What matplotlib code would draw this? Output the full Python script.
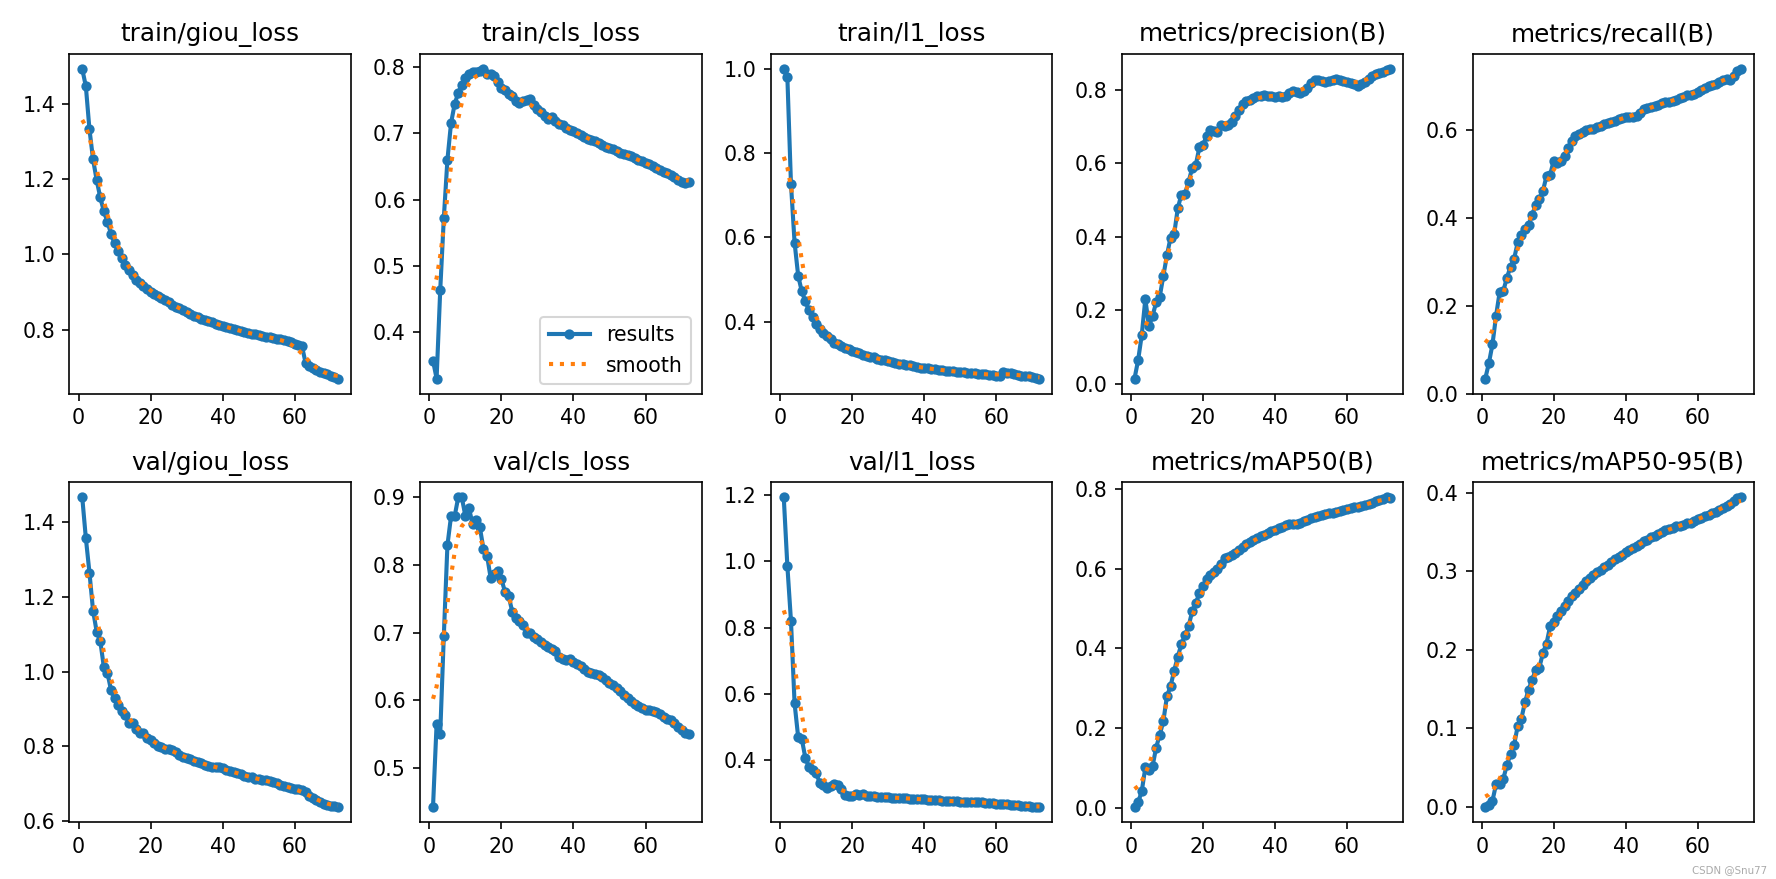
import numpy as np
import matplotlib
matplotlib.use("Agg")
import matplotlib.pyplot as plt
from matplotlib.ticker import MultipleLocator

# epochs 1..72
epochs = list(range(1, 73))

titles = ["train/giou_loss", "train/cls_loss", "train/l1_loss", "metrics/precision(B)", "metrics/recall(B)",
          "val/giou_loss", "val/cls_loss", "val/l1_loss", "metrics/mAP50(B)", "metrics/mAP50-95(B)"]

train_giou = [1.492, 1.446, 1.332, 1.252, 1.197, 1.151, 1.114, 1.086, 1.054, 1.029,
              1.008, 0.990, 0.972, 0.958, 0.944, 0.932, 0.925, 0.916, 0.908, 0.901,
              0.895, 0.889, 0.883, 0.878, 0.872, 0.866, 0.861, 0.856, 0.851, 0.846,
              0.841, 0.837, 0.833, 0.829, 0.826, 0.822, 0.819, 0.816, 0.813, 0.810,
              0.807, 0.804, 0.801, 0.798, 0.796, 0.793, 0.791, 0.789, 0.787, 0.785,
              0.783, 0.781, 0.779, 0.777, 0.775, 0.774, 0.772, 0.770, 0.768, 0.762,
              0.760, 0.756, 0.712, 0.702, 0.697, 0.693, 0.688, 0.684, 0.681, 0.677,
              0.674, 0.670]

train_cls = [0.357, 0.330, 0.463, 0.572, 0.660, 0.715, 0.744, 0.761, 0.773, 0.784,
             0.789, 0.792, 0.793, 0.794, 0.797, 0.790, 0.789, 0.786, 0.777, 0.768,
             0.765, 0.760, 0.757, 0.748, 0.745, 0.748, 0.750, 0.752, 0.742, 0.736,
             0.732, 0.726, 0.722, 0.724, 0.718, 0.714, 0.712, 0.708, 0.705, 0.703,
             0.700, 0.698, 0.695, 0.692, 0.690, 0.688, 0.685, 0.682, 0.680, 0.678,
             0.676, 0.673, 0.671, 0.669, 0.667, 0.665, 0.662, 0.660, 0.658, 0.655,
             0.653, 0.650, 0.648, 0.645, 0.642, 0.640, 0.637, 0.634, 0.630, 0.626,
             0.625, 0.627]

train_l1 = [1.000, 0.980, 0.727, 0.588, 0.509, 0.472, 0.448, 0.427, 0.410, 0.395,
            0.383, 0.373, 0.366, 0.358, 0.350, 0.346, 0.342, 0.338, 0.334, 0.330,
            0.327, 0.325, 0.322, 0.319, 0.317, 0.315, 0.312, 0.310, 0.308, 0.306,
            0.304, 0.302, 0.300, 0.299, 0.297, 0.296, 0.294, 0.293, 0.291, 0.290,
            0.289, 0.288, 0.287, 0.286, 0.285, 0.284, 0.283, 0.282, 0.281, 0.280,
            0.280, 0.279, 0.278, 0.277, 0.276, 0.275, 0.275, 0.274, 0.273, 0.272,
            0.271, 0.280, 0.279, 0.277, 0.275, 0.274, 0.272, 0.271, 0.270, 0.268,
            0.266, 0.265]

precision = [0.015, 0.065, 0.133, 0.231, 0.157, 0.185, 0.222, 0.237, 0.294, 0.350,
             0.398, 0.407, 0.477, 0.515, 0.517, 0.549, 0.587, 0.595, 0.643, 0.649,
             0.674, 0.690, 0.688, 0.685, 0.703, 0.700, 0.704, 0.712, 0.728, 0.745,
             0.762, 0.768, 0.773, 0.776, 0.782, 0.784, 0.786, 0.783, 0.782, 0.781,
             0.782, 0.780, 0.782, 0.790, 0.796, 0.793, 0.791, 0.795, 0.805, 0.818,
             0.827, 0.825, 0.823, 0.822, 0.824, 0.826, 0.829, 0.825, 0.823, 0.822,
             0.818, 0.814, 0.809, 0.815, 0.822, 0.830, 0.836, 0.842, 0.846, 0.849,
             0.853, 0.856]

recall = [0.035, 0.070, 0.113, 0.178, 0.232, 0.234, 0.264, 0.289, 0.307, 0.344,
          0.360, 0.374, 0.383, 0.407, 0.429, 0.443, 0.461, 0.495, 0.498, 0.530,
          0.525, 0.528, 0.540, 0.558, 0.574, 0.585, 0.590, 0.596, 0.600, 0.602,
          0.601, 0.606, 0.608, 0.612, 0.615, 0.618, 0.621, 0.624, 0.627, 0.628,
          0.630, 0.629, 0.632, 0.638, 0.648, 0.650, 0.652, 0.654, 0.656, 0.660,
          0.662, 0.664, 0.665, 0.668, 0.672, 0.675, 0.678, 0.680, 0.682, 0.686,
          0.690, 0.695, 0.700, 0.702, 0.705, 0.708, 0.712, 0.716, 0.714, 0.722,
          0.733, 0.738]

val_giou = [1.466, 1.357, 1.265, 1.163, 1.107, 1.082, 1.012, 0.996, 0.950, 0.930,
            0.910, 0.895, 0.883, 0.863, 0.862, 0.846, 0.835, 0.835, 0.822, 0.816,
            0.808, 0.802, 0.797, 0.794, 0.792, 0.790, 0.784, 0.778, 0.772, 0.769,
            0.766, 0.762, 0.758, 0.755, 0.751, 0.748, 0.745, 0.744, 0.744, 0.742,
            0.738, 0.735, 0.731, 0.728, 0.725, 0.722, 0.719, 0.717, 0.714, 0.712,
            0.710, 0.709, 0.707, 0.704, 0.701, 0.697, 0.694, 0.691, 0.688, 0.686,
            0.685, 0.684, 0.678, 0.668, 0.662, 0.656, 0.651, 0.646, 0.643, 0.641,
            0.640, 0.638]

val_cls = [0.442, 0.565, 0.550, 0.695, 0.829, 0.872, 0.872, 0.900, 0.900, 0.872,
           0.884, 0.860, 0.866, 0.856, 0.824, 0.814, 0.781, 0.786, 0.791, 0.779,
           0.760, 0.754, 0.731, 0.722, 0.717, 0.711, 0.700, 0.700, 0.694, 0.690,
           0.686, 0.682, 0.679, 0.676, 0.672, 0.664, 0.661, 0.660, 0.661, 0.656,
           0.653, 0.650, 0.646, 0.642, 0.640, 0.638, 0.637, 0.634, 0.630, 0.626,
           0.622, 0.618, 0.613, 0.608, 0.603, 0.599, 0.595, 0.591, 0.588, 0.586,
           0.585, 0.584, 0.583, 0.579, 0.575, 0.572, 0.570, 0.566, 0.561, 0.556,
           0.552, 0.550]

val_l1 = [1.192, 0.985, 0.820, 0.572, 0.470, 0.465, 0.407, 0.380, 0.372, 0.362,
          0.332, 0.325, 0.318, 0.322, 0.328, 0.326, 0.315, 0.295, 0.292, 0.292,
          0.300, 0.295, 0.298, 0.292, 0.294, 0.293, 0.291, 0.290, 0.290, 0.289,
          0.288, 0.288, 0.287, 0.286, 0.286, 0.285, 0.285, 0.284, 0.283, 0.283,
          0.282, 0.281, 0.280, 0.280, 0.279, 0.278, 0.278, 0.277, 0.277, 0.276,
          0.276, 0.275, 0.275, 0.275, 0.274, 0.274, 0.273, 0.272, 0.271, 0.270,
          0.270, 0.269, 0.268, 0.267, 0.266, 0.265, 0.264, 0.263, 0.262, 0.261,
          0.261, 0.260]

map50 = [0.002, 0.014, 0.041, 0.101, 0.095, 0.104, 0.151, 0.183, 0.217, 0.280,
         0.305, 0.344, 0.379, 0.410, 0.433, 0.455, 0.493, 0.513, 0.539, 0.556,
         0.573, 0.583, 0.592, 0.600, 0.612, 0.627, 0.630, 0.635, 0.640, 0.648,
         0.655, 0.661, 0.666, 0.671, 0.676, 0.681, 0.685, 0.689, 0.694, 0.698,
         0.702, 0.705, 0.709, 0.712, 0.713, 0.712, 0.715, 0.719, 0.723, 0.727,
         0.730, 0.733, 0.736, 0.738, 0.740, 0.741, 0.742, 0.744, 0.747, 0.750,
         0.752, 0.754, 0.756, 0.757, 0.759, 0.762, 0.766, 0.770, 0.773, 0.776,
         0.779, 0.778]

map50_95 = [0.000, 0.002, 0.008, 0.029, 0.029, 0.036, 0.053, 0.067, 0.079, 0.103,
            0.112, 0.133, 0.149, 0.162, 0.174, 0.177, 0.196, 0.208, 0.230, 0.236,
            0.243, 0.250, 0.256, 0.262, 0.268, 0.272, 0.277, 0.282, 0.287, 0.291,
            0.295, 0.299, 0.302, 0.305, 0.308, 0.312, 0.315, 0.318, 0.321, 0.324,
            0.327, 0.329, 0.332, 0.335, 0.338, 0.340, 0.343, 0.345, 0.348, 0.350,
            0.352, 0.354, 0.355, 0.357, 0.358, 0.359, 0.361, 0.362, 0.364, 0.366,
            0.368, 0.370, 0.372, 0.374, 0.376, 0.378, 0.380, 0.383, 0.386, 0.390,
            0.393, 0.394]

series = [train_giou, train_cls, train_l1, precision, recall,
          val_giou, val_cls, val_l1, map50, map50_95]


def gaussian_smooth(y, sigma=3.0):
    # same as scipy gaussian_filter1d (mode='reflect')
    y = np.asarray(y, dtype=float)
    radius = int(4 * sigma + 0.5)
    k = np.arange(-radius, radius + 1)
    kernel = np.exp(-0.5 * (k / sigma) ** 2)
    kernel /= kernel.sum()
    padded = np.pad(y, radius, mode="symmetric")
    return np.convolve(padded, kernel, mode="valid")


fig, axes = plt.subplots(2, 5, figsize=(1776 / 148, 879 / 148), dpi=148, tight_layout=True)
axes = axes.ravel()

x = np.array(epochs)
for i, (ax, y, t) in enumerate(zip(axes, series, titles)):
    ax.plot(x, y, marker=".", label="results", linewidth=2, markersize=8)
    ax.plot(x, gaussian_smooth(y), ":", label="smooth", linewidth=2)
    ax.set_title(t, fontsize=12)

axes[1].legend()
# recall panel uses 0.2 steps in the original
axes[4].yaxis.set_major_locator(MultipleLocator(0.2))

fig.text(0.995, 0.004, "CSDN @Snu77", ha="right", va="bottom", fontsize=5, color="#aaaaaa")

fig.savefig("out.png", dpi=148)
